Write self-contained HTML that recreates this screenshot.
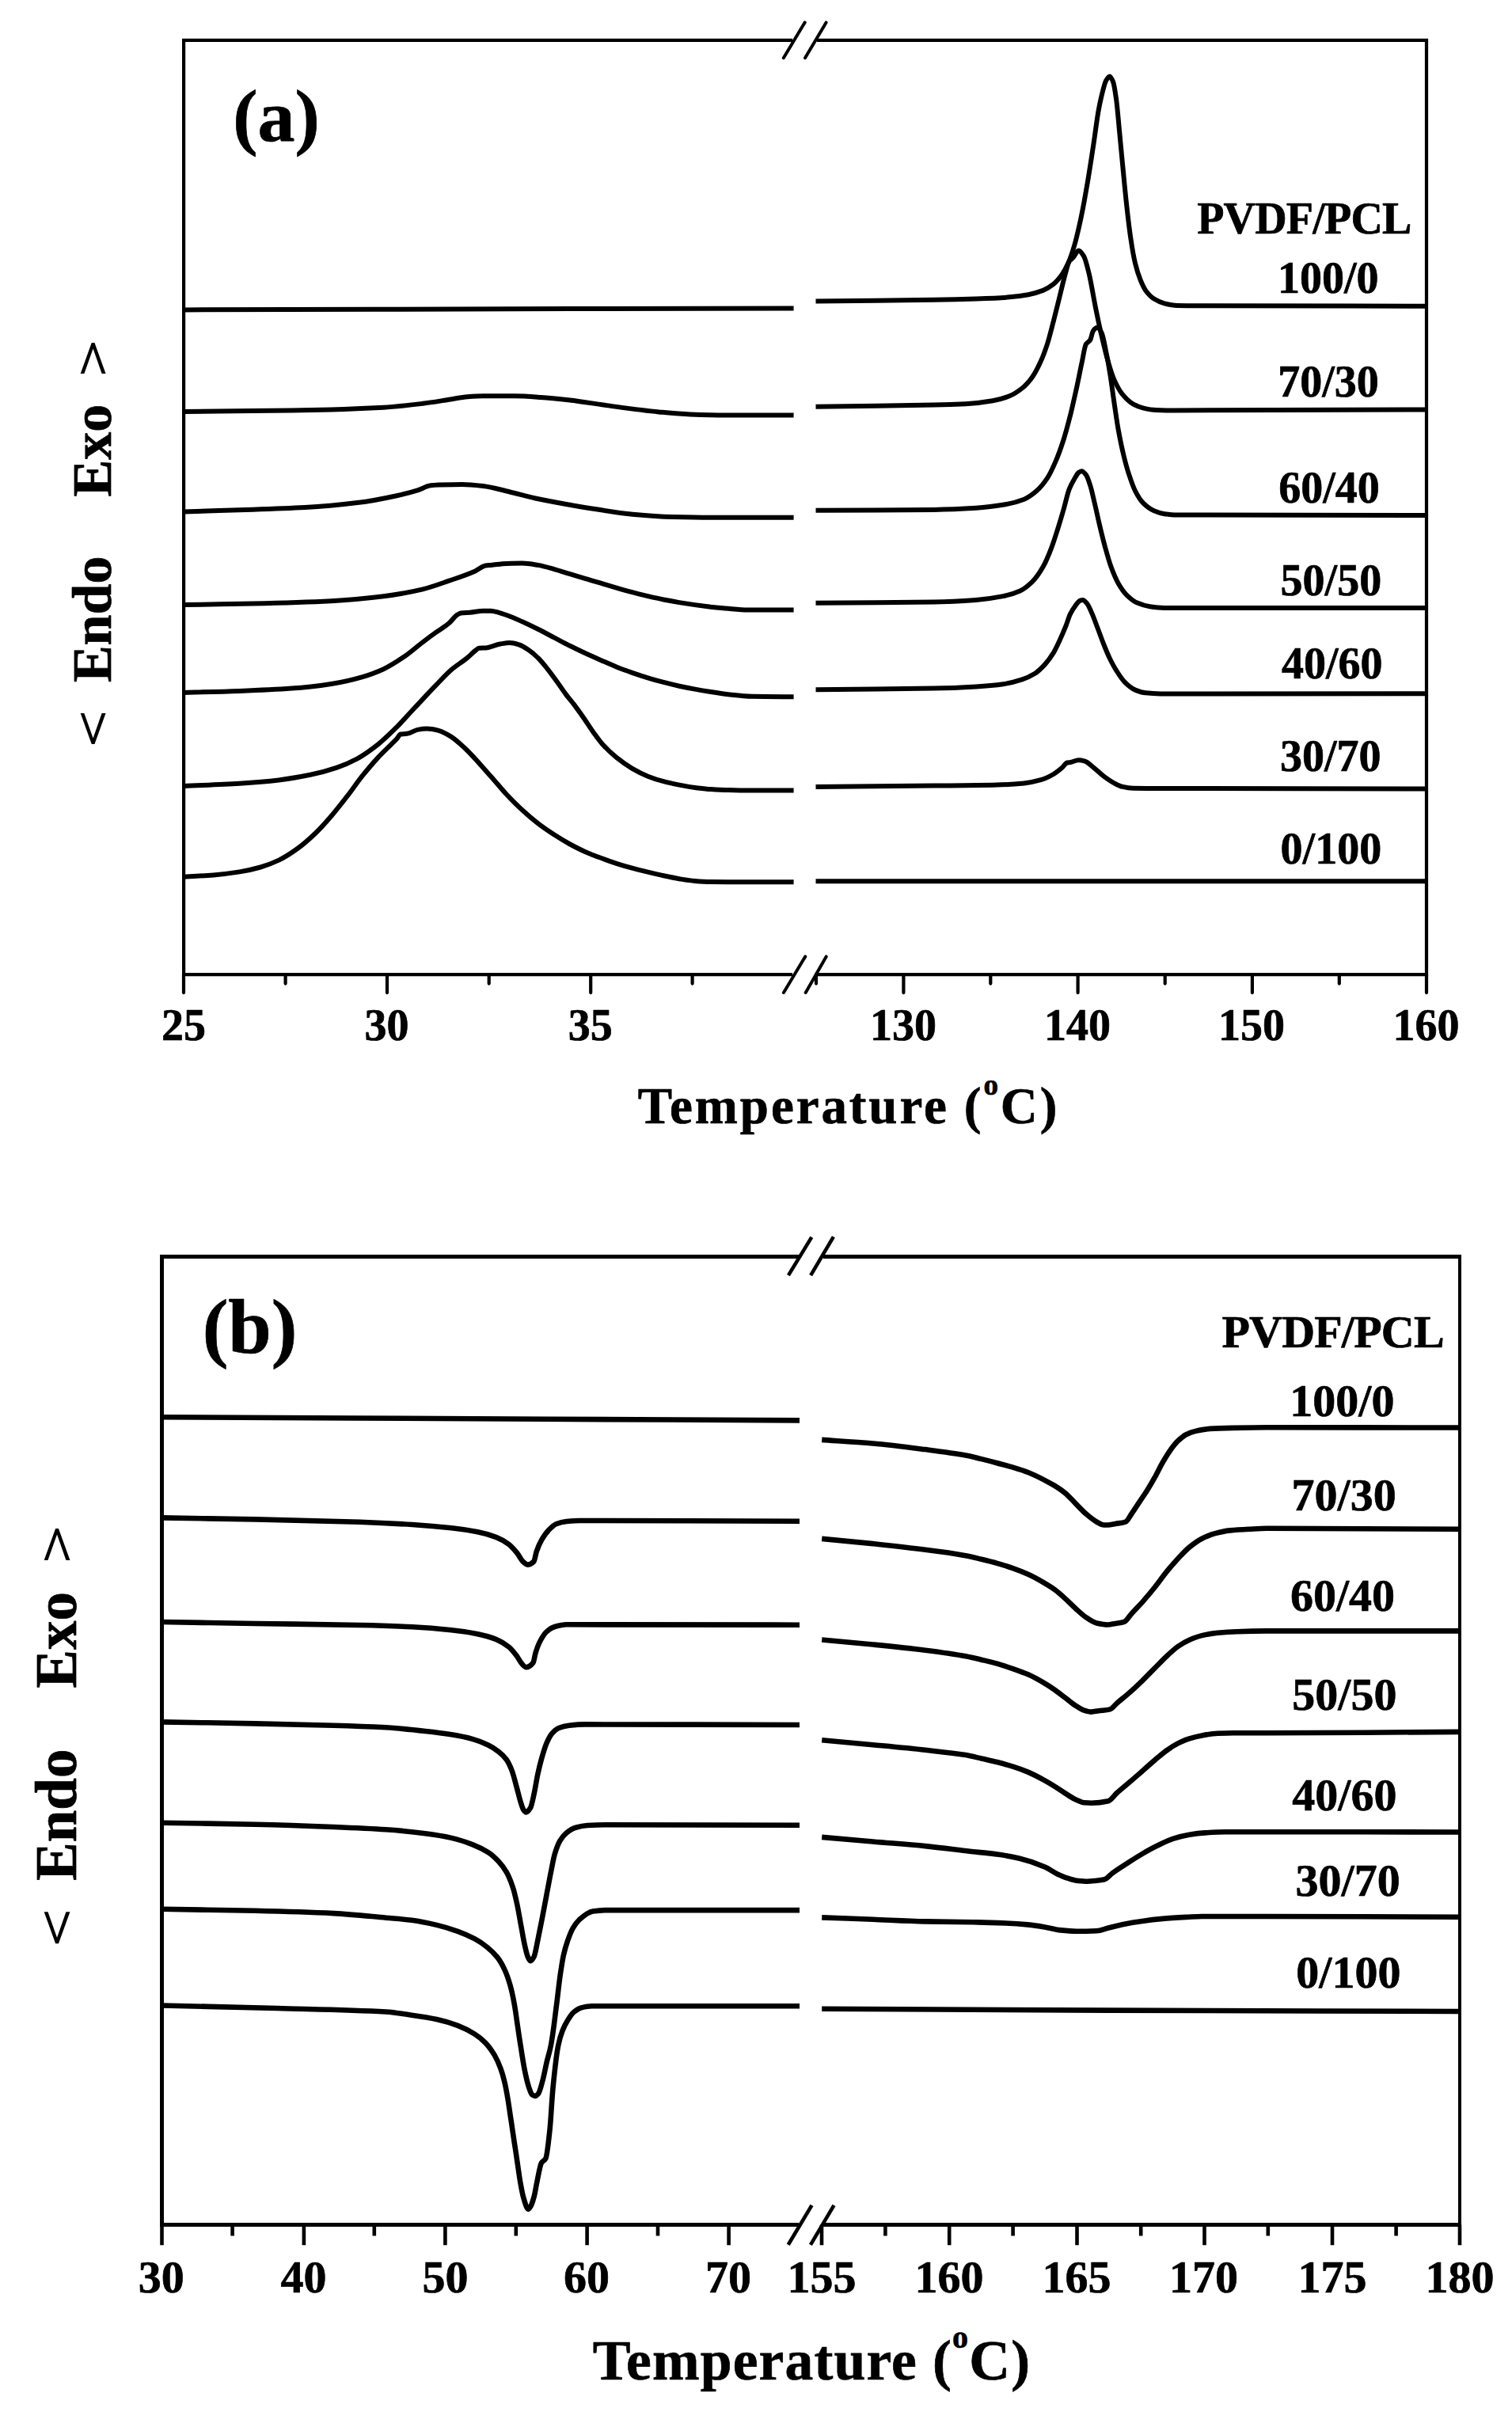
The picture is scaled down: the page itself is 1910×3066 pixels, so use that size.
<!DOCTYPE html>
<html lang="en"><head><meta charset="utf-8"><title>DSC curves of PVDF/PCL blends</title>
<style>
html,body{margin:0;padding:0;background:#fff;}
body{width:1910px;height:3066px;overflow:hidden;}
svg{display:block;}
text{font-family:"Liberation Serif","DejaVu Serif",serif;font-weight:bold;fill:#000;stroke:#000;stroke-width:0.7;stroke-linejoin:round;}
.ang{font-family:"DejaVu Sans","Liberation Sans",sans-serif;font-weight:200;stroke:#000;stroke-width:1.9;stroke-linejoin:miter;}
.fr{fill:none;stroke:#000;stroke-linecap:butt;stroke-linejoin:miter;}
.cv{fill:none;stroke:#000;stroke-linecap:butt;stroke-linejoin:round;}
.tk{fill:none;stroke:#000;stroke-linecap:round;}
</style></head><body>
<svg width="1910" height="3066" viewBox="0 0 1910 3066">
<rect width="1910" height="3066" fill="#fff"/>
<g id="chart-a">
<path class="fr" stroke-width="4.2" d="M1001.0 50.8H232.1V1231.2H1001.0 M1032.0 50.8H1802.0V1231.2H1032.0"/>
<line x1="989.8" y1="73.2" x2="1016.7" y2="28.4" stroke="#000" stroke-width="4.0" stroke-linecap="round"/>
<line x1="1017.0" y1="73.2" x2="1043.6" y2="28.4" stroke="#000" stroke-width="4.0" stroke-linecap="round"/>
<line x1="989.9" y1="1254.0" x2="1017.3" y2="1208.4" stroke="#000" stroke-width="4.0" stroke-linecap="round"/>
<line x1="1017.7" y1="1254.0" x2="1043.7" y2="1208.4" stroke="#000" stroke-width="4.0" stroke-linecap="round"/>
<path class="tk" stroke-width="4.2" d="M232.0 1231.2V1254.1M489.0 1231.2V1254.1M746.2 1231.2V1254.1M1141.4 1231.2V1254.1M1361.6 1231.2V1254.1M1581.9 1231.2V1254.1M1802.0 1231.2V1254.1M360.6 1231.2V1242.6M617.7 1231.2V1242.6M874.6 1231.2V1242.6M1031.0 1231.2V1242.6M1251.3 1231.2V1242.6M1471.7 1231.2V1242.6M1691.8 1231.2V1242.6"/>
<path class="cv" stroke-width="6" d="M232.1 391.4C394.7 391.0 557.4 390.5 720.0 390.1C814.2 389.9 908.4 389.7 1002.6 389.4"/>
<path class="cv" stroke-width="6" d="M1030.5 380.5C1080.3 379.9 1130.2 379.6 1180.0 378.8C1197.6 378.5 1215.3 378.0 1232.9 377.5C1246.1 377.0 1259.4 376.5 1272.6 375.6C1281.4 375.0 1290.2 373.8 1299.0 372.2C1305.2 371.0 1311.4 369.3 1317.6 366.9C1322.0 365.1 1326.4 362.4 1330.8 358.9C1334.3 356.1 1337.8 352.0 1341.4 347.0C1344.0 343.3 1346.7 338.4 1349.3 332.5C1352.0 326.6 1354.6 318.9 1357.2 310.0C1359.9 301.1 1362.5 289.3 1365.2 276.9C1367.8 264.6 1370.5 249.9 1373.1 234.6C1375.8 219.3 1378.4 201.7 1381.1 184.3C1383.3 169.9 1385.5 151.4 1387.7 139.4C1389.0 132.2 1390.3 126.2 1391.6 120.8C1393.4 113.7 1395.2 105.5 1396.9 102.3C1398.5 99.5 1400.1 96.5 1401.7 96.5C1403.2 96.5 1404.7 99.9 1406.2 103.7C1407.5 107.0 1408.8 116.6 1410.2 126.1C1411.5 135.7 1412.8 152.2 1414.1 165.8C1415.4 179.5 1416.8 194.5 1418.1 208.1C1419.9 226.4 1421.6 245.4 1423.4 261.1C1425.1 276.7 1426.9 291.9 1428.7 303.4C1430.4 314.9 1432.2 325.3 1434.0 332.5C1436.2 341.5 1438.4 348.2 1440.6 353.7C1442.8 359.1 1445.0 363.9 1447.2 366.9C1450.7 371.7 1454.3 375.3 1457.8 377.5C1462.2 380.2 1466.6 382.2 1471.0 383.3C1476.3 384.6 1481.6 385.8 1486.9 385.9C1494.8 386.1 1502.8 386.2 1510.7 386.2C1607.8 386.6 1704.9 386.5 1802.0 386.7"/>
<path class="cv" stroke-width="6" d="M232.1 520.1C261.1 519.7 290.2 519.5 319.2 519.1C352.3 518.6 385.3 518.2 418.4 517.4C440.5 516.9 462.5 516.0 484.6 514.8C501.1 513.8 517.6 511.8 534.2 509.8C545.2 508.5 556.2 506.5 567.2 504.8C574.9 503.7 582.7 501.8 590.4 501.2C597.0 500.7 603.6 500.2 610.2 500.2C623.4 500.2 636.7 500.2 649.9 500.2C660.9 500.2 671.9 501.1 683.0 501.9C695.3 502.7 707.7 504.1 720.0 505.5C735.4 507.3 750.8 510.1 766.1 512.1C788.2 515.1 810.2 518.4 832.3 520.4C845.5 521.6 858.7 522.9 872.0 523.4C886.3 523.9 900.6 524.4 914.9 524.4C944.2 524.4 973.4 524.4 1002.6 524.4"/>
<path class="cv" stroke-width="6" d="M1030.5 513.8C1080.3 513.1 1130.2 512.7 1180.0 511.6C1193.2 511.4 1206.5 511.0 1219.7 510.3C1231.1 509.7 1242.6 508.3 1254.1 506.3C1261.1 505.1 1268.2 503.1 1275.2 500.3C1280.5 498.2 1285.8 494.7 1291.1 490.5C1295.5 487.0 1299.9 482.1 1304.3 475.9C1307.9 471.0 1311.4 463.9 1314.9 456.1C1317.6 450.2 1320.2 443.1 1322.9 434.9C1325.5 426.8 1328.1 415.9 1330.8 405.8C1333.4 395.7 1336.1 384.7 1338.7 374.1C1340.9 365.3 1343.1 355.5 1345.3 347.6C1347.1 341.3 1348.9 333.1 1350.6 330.4C1352.4 327.7 1354.2 327.1 1355.9 325.1C1358.1 322.6 1360.3 316.4 1362.5 316.4C1364.7 316.4 1366.9 320.1 1369.2 323.8C1371.4 327.5 1373.6 337.3 1375.8 346.3C1378.4 357.1 1381.1 374.3 1383.7 387.3C1386.3 400.3 1389.0 412.9 1391.6 424.3C1394.3 435.7 1396.9 447.0 1399.6 456.1C1402.2 465.2 1404.9 474.0 1407.5 479.9C1411.0 487.8 1414.6 494.2 1418.1 498.4C1422.5 503.7 1426.9 507.9 1431.3 510.3C1435.7 512.8 1440.1 514.6 1444.6 515.6C1449.8 516.8 1455.1 517.8 1460.4 518.0C1468.4 518.3 1476.3 518.5 1484.2 518.5C1590.2 518.5 1696.1 517.8 1802.0 517.4"/>
<path class="cv" stroke-width="6" d="M232.1 646.4C261.1 645.5 290.2 644.7 319.2 643.7C341.3 643.0 363.3 642.3 385.3 641.1C407.4 639.9 429.4 637.8 451.5 635.1C468.0 633.1 484.6 629.8 501.1 626.2C509.9 624.3 518.7 622.0 527.5 619.3C533.1 617.6 538.6 613.9 544.1 613.3C547.4 613.0 550.7 612.8 554.0 612.6C563.9 612.3 573.8 612.0 583.8 612.0C592.6 612.0 601.4 613.0 610.2 614.0C621.2 615.2 632.3 618.7 643.3 621.2C654.3 623.8 665.3 627.1 676.3 629.5C690.9 632.7 705.4 635.2 720.0 637.8C729.9 639.5 739.7 641.2 749.6 642.7C766.1 645.3 782.7 648.2 799.2 649.7C815.7 651.2 832.3 652.6 848.8 653.0C865.3 653.4 881.9 653.7 898.4 653.7C933.1 653.7 967.9 653.7 1002.6 653.7"/>
<path class="cv" stroke-width="6" d="M1030.5 644.7C1080.3 644.5 1130.2 644.5 1180.0 643.9C1197.6 643.7 1215.3 642.9 1232.9 641.8C1245.3 641.0 1257.6 639.4 1269.9 637.3C1277.9 635.9 1285.8 633.9 1293.8 630.7C1299.0 628.6 1304.3 624.7 1309.6 620.1C1314.0 616.3 1318.4 610.9 1322.9 604.2C1326.4 598.9 1329.9 591.2 1333.4 583.1C1337.0 574.9 1340.5 565.1 1344.0 554.0C1346.7 545.6 1349.3 535.4 1352.0 524.9C1354.6 514.4 1357.2 502.5 1359.9 490.5C1362.1 480.4 1364.3 469.0 1366.5 458.7C1368.3 450.5 1370.0 437.8 1371.8 434.9C1373.6 432.0 1375.3 432.3 1377.1 429.6C1378.4 427.6 1379.7 419.4 1381.1 417.7C1382.8 415.5 1384.6 413.8 1386.3 413.8C1388.1 413.8 1389.9 417.0 1391.6 420.4C1393.4 423.8 1395.2 434.4 1396.9 442.9C1398.7 451.3 1400.5 461.1 1402.2 472.0C1404.0 482.8 1405.7 497.1 1407.5 509.0C1409.3 520.9 1411.0 533.6 1412.8 543.4C1415.0 555.6 1417.2 566.1 1419.4 575.1C1421.6 584.2 1423.8 592.2 1426.0 598.9C1428.7 607.1 1431.3 615.0 1434.0 620.1C1437.5 627.0 1441.0 632.6 1444.6 636.0C1449.0 640.2 1453.4 643.4 1457.8 645.2C1462.2 647.1 1466.6 648.6 1471.0 649.2C1476.3 649.9 1481.6 650.5 1486.9 650.5C1591.9 651.0 1697.0 650.8 1802.0 651.0"/>
<path class="cv" stroke-width="6" d="M232.1 764.1C261.1 763.6 290.2 763.2 319.2 762.5C352.3 761.7 385.3 760.8 418.4 759.2C440.5 758.1 462.5 755.9 484.6 753.2C501.1 751.2 517.6 748.2 534.2 744.3C545.2 741.7 556.2 737.5 567.2 733.7C578.2 729.9 589.3 726.3 600.3 721.4C604.7 719.5 609.1 715.1 613.5 714.5C615.7 714.2 617.8 714.1 620.0 713.9C626.6 713.3 633.2 712.1 639.8 711.9C646.5 711.7 653.1 711.5 659.7 711.5C666.3 711.5 672.9 712.8 679.5 713.9C686.1 715.0 692.8 717.0 699.4 718.8C706.0 720.7 712.6 722.8 719.2 724.8C725.8 726.8 732.4 728.8 739.0 730.8C745.7 732.7 752.3 734.7 758.9 736.7C765.5 738.7 772.1 740.7 778.7 742.7C785.3 744.6 792.0 746.5 798.6 748.2C805.2 750.0 811.8 751.6 818.4 753.2C825.0 754.7 831.6 756.2 838.3 757.5C844.9 758.8 851.5 760.0 858.1 761.1C864.7 762.2 871.3 763.2 877.9 764.1C884.6 765.0 891.2 765.9 897.8 766.7C905.2 767.5 912.6 768.3 920.0 768.8C928.3 769.5 936.7 770.4 945.0 770.4C964.2 770.4 983.4 770.4 1002.6 770.4"/>
<path class="cv" stroke-width="6" d="M1030.5 761.8C1080.3 761.4 1130.2 761.4 1180.0 760.5C1197.6 760.2 1215.3 759.2 1232.9 757.9C1244.4 757.0 1255.8 755.4 1267.3 753.1C1274.4 751.7 1281.4 749.7 1288.5 746.5C1293.8 744.1 1299.0 739.8 1304.3 734.6C1308.7 730.3 1313.2 723.8 1317.6 716.1C1321.1 709.9 1324.6 701.4 1328.1 692.3C1330.8 685.4 1333.4 676.8 1336.1 668.5C1338.7 660.1 1341.4 651.2 1344.0 642.0C1346.2 634.4 1348.4 623.9 1350.6 618.2C1352.8 612.5 1355.0 608.7 1357.2 605.0C1359.0 602.0 1360.8 598.3 1362.5 597.0C1363.9 596.1 1365.2 595.2 1366.5 595.2C1368.3 595.2 1370.0 597.4 1371.8 599.7C1373.6 601.9 1375.3 607.5 1377.1 612.9C1378.9 618.3 1380.6 626.7 1382.4 634.1C1384.6 643.3 1386.8 653.9 1389.0 663.2C1391.2 672.4 1393.4 681.6 1395.6 689.6C1398.3 699.3 1400.9 708.9 1403.5 716.1C1406.6 724.5 1409.7 731.9 1412.8 737.2C1416.3 743.3 1419.9 748.4 1423.4 751.8C1427.8 756.1 1432.2 759.7 1436.6 761.6C1441.9 763.9 1447.2 765.6 1452.5 766.3C1458.7 767.2 1464.8 767.9 1471.0 767.9C1581.3 768.0 1691.7 768.0 1802.0 768.0"/>
<path class="cv" stroke-width="6" d="M232.1 874.9C255.6 874.3 279.1 873.8 302.7 872.9C324.7 872.1 346.8 871.2 368.8 869.6C385.3 868.5 401.9 866.5 418.4 864.0C431.6 862.0 444.9 858.9 458.1 855.1C466.9 852.6 475.7 849.2 484.6 845.2C493.4 841.1 502.2 835.3 511.0 829.3C518.7 824.0 526.4 817.0 534.2 811.1C539.7 806.9 545.2 802.8 550.7 798.9C556.2 794.9 561.7 792.0 567.2 787.3C570.5 784.5 573.8 779.3 577.1 777.0C578.8 775.9 580.4 774.6 582.1 774.4C586.0 773.9 589.8 774.0 593.7 773.7C599.2 773.3 604.7 771.7 610.2 771.7C613.5 771.7 616.7 771.8 620.0 771.8C623.3 771.9 626.6 773.0 629.9 773.8C633.2 774.6 636.5 775.8 639.8 777.0C646.5 779.4 653.1 782.4 659.7 785.3C666.3 788.3 672.9 791.5 679.5 794.8C686.1 798.1 692.8 801.7 699.4 805.2C706.0 808.6 712.6 812.2 719.2 815.5C725.8 818.8 732.4 821.9 739.0 825.0C745.7 828.1 752.3 831.0 758.9 833.9C765.5 836.8 772.1 839.8 778.7 842.5C785.3 845.1 792.0 847.5 798.6 849.8C805.2 852.1 811.8 854.3 818.4 856.3C825.0 858.4 831.6 860.2 838.3 861.9C844.9 863.6 851.5 865.2 858.1 866.7C864.7 868.1 871.3 869.4 877.9 870.6C884.6 871.9 891.2 873.0 897.8 874.0C905.2 875.2 912.6 876.4 920.0 877.2C930.0 878.3 940.0 879.6 950.0 879.8C967.5 880.1 985.1 880.1 1002.6 880.2"/>
<path class="cv" stroke-width="6" d="M1030.5 871.3C1080.3 870.7 1130.2 870.5 1180.0 869.5C1197.6 869.2 1215.3 868.4 1232.9 867.4C1244.4 866.7 1255.8 865.8 1267.3 864.2C1275.2 863.1 1283.2 861.0 1291.1 858.4C1296.4 856.7 1301.7 854.3 1307.0 851.0C1311.4 848.3 1315.8 843.9 1320.2 839.1C1323.7 835.2 1327.3 830.3 1330.8 824.6C1333.4 820.2 1336.1 814.4 1338.7 808.7C1341.4 803.0 1344.0 796.9 1346.7 790.2C1348.4 785.7 1350.2 779.2 1352.0 775.6C1354.2 771.1 1356.4 768.0 1358.6 765.0C1360.3 762.7 1362.1 759.7 1363.9 758.9C1365.2 758.4 1366.5 757.9 1367.8 757.9C1369.6 757.9 1371.4 760.3 1373.1 762.4C1375.3 765.0 1377.5 770.6 1379.7 775.6C1381.9 780.6 1384.1 787.0 1386.3 792.8C1389.0 799.8 1391.6 807.4 1394.3 814.0C1396.9 820.6 1399.6 827.1 1402.2 832.5C1404.9 837.9 1407.5 842.9 1410.2 847.0C1413.7 852.6 1417.2 858.1 1420.7 861.6C1425.1 866.0 1429.6 869.8 1434.0 871.6C1438.4 873.4 1442.8 874.9 1447.2 875.3C1453.4 876.0 1459.5 876.4 1465.7 876.4C1577.8 876.4 1689.9 876.3 1802.0 876.3"/>
<path class="cv" stroke-width="6" d="M232.1 993.0C255.6 991.9 279.1 991.1 302.7 989.7C319.2 988.6 335.7 987.3 352.3 985.4C365.5 983.8 378.7 981.5 392.0 978.8C403.0 976.5 414.0 973.5 425.0 969.8C433.8 966.9 442.7 963.0 451.5 958.3C460.3 953.5 469.1 947.1 477.9 940.1C485.7 933.9 493.4 926.2 501.1 918.6C508.8 910.9 516.5 902.0 524.2 893.8C533.1 884.4 541.9 874.7 550.7 865.7C557.3 858.9 563.9 851.5 570.5 845.8C577.1 840.2 583.8 836.4 590.4 830.9C593.7 828.2 597.0 824.5 600.3 822.0C601.9 820.8 603.6 818.8 605.3 818.7C608.0 818.5 610.8 818.5 613.5 818.4C619.6 818.0 625.8 814.5 631.9 813.5C635.9 812.9 639.8 812.1 643.8 812.1C647.8 812.1 651.7 813.3 655.7 814.5C659.7 815.6 663.7 818.4 667.6 821.0C671.6 823.7 675.6 827.1 679.5 831.0C683.5 834.8 687.5 839.9 691.4 844.8C695.4 849.8 699.4 855.3 703.3 860.7C707.3 866.2 711.3 872.3 715.2 877.6C718.5 882.0 721.9 885.7 725.2 890.1C729.1 895.3 733.1 900.8 737.0 906.5C741.2 912.5 745.4 919.4 749.6 925.2C753.4 930.4 757.1 935.8 760.9 940.0C766.8 946.6 772.8 952.1 778.7 956.9C785.3 962.2 792.0 966.9 798.6 970.8C805.2 974.6 811.8 978.0 818.4 980.7C825.0 983.3 831.6 985.5 838.3 987.2C844.9 989.0 851.5 990.3 858.1 991.6C864.7 992.9 871.3 994.1 877.9 995.0C884.6 995.8 891.2 996.7 897.8 997.1C905.2 997.6 912.6 998.0 920.0 998.1C929.3 998.4 938.7 998.6 948.0 998.6C966.2 998.6 984.4 998.6 1002.6 998.6"/>
<path class="cv" stroke-width="6" d="M1030.5 994.0C1080.3 993.5 1130.2 993.1 1180.0 992.6C1206.5 992.3 1232.9 992.2 1259.4 991.5C1270.8 991.3 1282.3 990.5 1293.8 989.4C1300.8 988.7 1307.9 987.2 1314.9 985.2C1320.2 983.7 1325.5 981.1 1330.8 978.0C1334.3 976.0 1337.8 973.2 1341.4 970.1C1343.6 968.2 1345.8 964.0 1348.0 963.5C1349.3 963.2 1350.6 963.2 1352.0 963.0C1355.5 962.4 1359.0 960.3 1362.5 960.3C1365.2 960.3 1367.8 960.9 1370.5 961.6C1374.0 962.6 1377.5 966.5 1381.1 969.3C1385.5 972.8 1389.9 977.4 1394.3 980.7C1398.7 984.0 1403.1 987.2 1407.5 989.4C1411.0 991.2 1414.6 993.2 1418.1 993.9C1422.5 994.9 1426.9 995.7 1431.3 995.8C1444.6 996.0 1457.8 996.0 1471.0 996.0C1581.3 996.3 1691.7 996.3 1802.0 996.4"/>
<path class="cv" stroke-width="6" d="M232.1 1107.7C244.6 1107.0 257.1 1106.4 269.6 1105.4C280.6 1104.5 291.6 1103.2 302.7 1101.4C311.5 1100.0 320.3 1098.0 329.1 1095.5C336.8 1093.3 344.6 1090.2 352.3 1086.6C360.0 1082.9 367.7 1077.9 375.4 1072.3C383.1 1066.8 390.9 1059.9 398.6 1052.5C405.2 1046.2 411.8 1038.7 418.4 1031.0C425.0 1023.3 431.6 1014.7 438.3 1006.2C444.9 997.7 451.5 988.0 458.1 979.7C464.7 971.5 471.3 963.7 477.9 956.6C483.4 950.7 489.0 945.6 494.5 940.1C496.7 937.9 498.9 935.9 501.1 933.5C502.7 931.6 504.4 927.8 506.0 927.5C508.8 927.1 511.6 927.2 514.3 926.8C518.7 926.3 523.1 922.6 527.5 921.9C531.4 921.2 535.3 920.6 539.1 920.6C544.1 920.6 549.0 921.7 554.0 922.9C559.5 924.2 565.0 927.7 570.5 931.1C576.0 934.6 581.6 939.9 587.1 945.0C598.0 955.3 609.0 968.4 620.0 980.7C626.6 988.1 633.2 996.4 639.8 1003.5C646.5 1010.6 653.1 1017.3 659.7 1023.3C666.3 1029.4 672.9 1035.1 679.5 1040.2C686.1 1045.3 692.8 1049.8 699.4 1054.1C706.0 1058.4 712.6 1062.4 719.2 1066.0C725.8 1069.6 732.4 1073.0 739.0 1075.9C745.7 1078.9 752.3 1081.4 758.9 1083.8C765.5 1086.3 772.1 1088.7 778.7 1090.8C785.3 1092.9 792.0 1094.9 798.6 1096.7C805.2 1098.5 811.8 1100.1 818.4 1101.7C825.0 1103.3 831.6 1104.9 838.3 1106.3C844.9 1107.7 851.5 1109.1 858.1 1110.2C864.7 1111.3 871.3 1112.5 877.9 1113.0C884.6 1113.5 891.2 1113.9 897.8 1114.0C905.2 1114.1 912.6 1114.2 920.0 1114.2C947.5 1114.3 975.1 1114.3 1002.6 1114.3"/>
<path class="cv" stroke-width="6" d="M1030.5 1113.2C1287.7 1113.2 1544.8 1113.2 1802.0 1113.2"/>
<text x="232.0" y="1313.8" font-size="56" text-anchor="middle">25</text>
<text x="488.6" y="1313.8" font-size="56" text-anchor="middle">30</text>
<text x="745.8" y="1313.8" font-size="56" text-anchor="middle">35</text>
<text x="1141.0" y="1313.8" font-size="56" text-anchor="middle">130</text>
<text x="1360.9" y="1313.8" font-size="56" text-anchor="middle">140</text>
<text x="1581.1" y="1313.8" font-size="56" text-anchor="middle">150</text>
<text x="1801.5" y="1313.8" font-size="56" text-anchor="middle">160</text>
<text x="1072" y="1418.5" font-size="65" letter-spacing="2.9" text-anchor="middle">Temperature (<tspan font-size="37" dy="-36">o</tspan><tspan dy="36">C)</tspan></text>
<text x="349" y="178" font-size="94" text-anchor="middle">(a)</text>
<text x="1647.4" y="294.8" font-size="56" letter-spacing="-0.8" text-anchor="middle">PVDF/PCL</text>
<text x="1677.8" y="369.5" font-size="56" text-anchor="middle">100/0</text>
<text x="1678.0" y="501.0" font-size="56" text-anchor="middle">70/30</text>
<text x="1679.0" y="635.3" font-size="56" text-anchor="middle">60/40</text>
<text x="1681.4" y="752.0" font-size="56" text-anchor="middle">50/50</text>
<text x="1682.8" y="856.7" font-size="56" text-anchor="middle">40/60</text>
<text x="1680.8" y="974.2" font-size="56" text-anchor="middle">30/70</text>
<text x="1681.4" y="1091.4" font-size="56" text-anchor="middle">0/100</text>
<g transform="translate(140.3,0) rotate(-90)">
<text x="-782.3" y="0" font-size="70" text-anchor="middle">Endo</text>
<text x="-569.2" y="0" font-size="70" text-anchor="middle">Exo</text>
<text class="ang" x="-920.5" y="-4.6" font-size="59" text-anchor="middle">&lt;</text>
<text class="ang" x="-452.6" y="-4.6" font-size="59" text-anchor="middle">&gt;</text>
</g>
</g>
<g id="chart-b">
<g shape-rendering="crispEdges" stroke="#000" fill="none">
<path stroke-width="5" d="M204.5 1585V2813"/>
<path stroke-width="5" d="M202 1587.5H1009M1040 1587.5H1846"/>
<path stroke-width="5" d="M202 2810.5H1009M1040 2810.5H1846"/>
<path stroke-width="4" d="M1844 1585V2813"/>
</g>
<line x1="995.9" y1="1611.1" x2="1025.3" y2="1562.9" stroke="#000" stroke-width="4.6" stroke-linecap="butt"/>
<line x1="1024.1" y1="1611.1" x2="1052.9" y2="1562.3" stroke="#000" stroke-width="4.6" stroke-linecap="butt"/>
<line x1="995.7" y1="2835.8" x2="1025.5" y2="2785.9" stroke="#000" stroke-width="4.6" stroke-linecap="butt"/>
<line x1="1023.9" y1="2835.8" x2="1053.5" y2="2785.9" stroke="#000" stroke-width="4.6" stroke-linecap="butt"/>
<path class="fr" stroke-width="4.6" d="M204.5 2810.5V2836.2M383.9 2810.5V2836.2M562.4 2810.5V2836.2M741.6 2810.5V2836.2M920.6 2810.5V2836.2M1038.0 2810.5V2836.2M1199.2 2810.5V2836.2M1360.5 2810.5V2836.2M1521.5 2810.5V2836.2M1683.0 2810.5V2836.2M1844.0 2810.5V2836.2M293.6 2810.5V2824.4M472.8 2810.5V2824.4M651.8 2810.5V2824.4M831.0 2810.5V2824.4M1118.4 2810.5V2824.4M1279.6 2810.5V2824.4M1441.2 2810.5V2824.4M1601.8 2810.5V2824.4M1763.6 2810.5V2824.4"/>
<path class="cv" stroke-width="6.6" d="M204.5 1790.2C366.3 1791.0 528.2 1791.9 690.0 1792.7C796.7 1793.3 903.3 1793.8 1010.0 1794.4"/>
<path class="cv" stroke-width="6.6" d="M1038.2 1818.9C1059.7 1820.4 1081.2 1821.6 1102.7 1823.5C1124.7 1825.4 1146.8 1828.3 1168.8 1831.1C1185.8 1833.3 1202.8 1835.4 1219.8 1838.5C1226.4 1839.7 1233.1 1841.5 1239.7 1843.1C1246.3 1844.7 1252.9 1846.4 1259.5 1848.2C1266.1 1850.0 1272.8 1851.7 1279.4 1853.7C1286.0 1855.7 1292.6 1857.7 1299.2 1860.3C1305.8 1862.9 1312.4 1866.2 1319.0 1869.6C1323.4 1871.9 1327.9 1874.2 1332.3 1876.9C1336.7 1879.6 1341.1 1882.5 1345.5 1886.1C1349.9 1889.7 1354.3 1895.0 1358.7 1899.4C1363.1 1903.8 1367.6 1908.8 1372.0 1912.6C1376.4 1916.4 1380.8 1920.1 1385.2 1922.5C1388.3 1924.2 1391.3 1926.5 1394.4 1926.5C1396.0 1926.5 1397.6 1926.5 1399.2 1926.5C1402.5 1926.5 1405.8 1925.5 1409.1 1924.9C1413.4 1924.2 1417.7 1924.1 1422.0 1922.5C1424.3 1921.7 1426.7 1916.3 1429.0 1913.0C1432.3 1908.3 1435.6 1903.1 1438.9 1898.1C1442.2 1893.2 1445.5 1888.5 1448.8 1883.3C1452.1 1878.0 1455.4 1872.3 1458.7 1866.4C1462.0 1860.5 1465.3 1853.3 1468.7 1847.5C1472.0 1841.8 1475.3 1836.2 1478.6 1831.7C1481.9 1827.1 1485.2 1822.8 1488.5 1819.8C1491.8 1816.7 1495.1 1813.9 1498.4 1812.2C1502.4 1810.2 1506.3 1808.8 1510.3 1807.9C1516.3 1806.5 1522.2 1805.2 1528.2 1804.9C1538.1 1804.3 1548.0 1804.1 1557.9 1803.9C1572.0 1803.6 1586.0 1803.3 1600.0 1803.3C1681.3 1803.3 1762.7 1803.4 1844.0 1803.5"/>
<path class="cv" stroke-width="6.6" d="M204.5 1917.4C243.8 1918.1 283.0 1918.6 322.3 1919.4C366.4 1920.3 410.5 1921.2 454.6 1922.7C476.6 1923.5 498.6 1924.6 520.7 1926.0C537.2 1927.1 553.8 1928.5 570.3 1930.3C581.3 1931.5 592.3 1933.1 603.4 1935.3C611.1 1936.8 618.8 1938.9 626.5 1941.9C632.0 1944.0 637.5 1947.0 643.0 1951.1C646.3 1953.6 649.7 1957.7 653.0 1961.7C655.7 1965.1 658.5 1970.9 661.2 1973.3C662.9 1974.7 664.5 1976.6 666.2 1976.6C668.9 1976.6 671.7 1975.3 674.4 1972.6C675.5 1971.6 676.6 1963.3 677.7 1960.1C679.9 1953.7 682.1 1949.0 684.3 1945.2C687.1 1940.4 689.8 1936.5 692.6 1933.6C695.9 1930.1 699.2 1926.6 702.5 1925.3C706.9 1923.6 711.3 1922.5 715.7 1922.0C721.3 1921.5 726.8 1921.0 732.3 1921.0C824.9 1921.0 917.4 1921.5 1010.0 1921.7"/>
<path class="cv" stroke-width="6.6" d="M1038.2 1943.9C1059.7 1946.0 1081.2 1947.9 1102.7 1950.1C1124.7 1952.5 1146.8 1954.9 1168.8 1957.8C1185.8 1959.9 1202.8 1962.1 1219.8 1965.2C1226.4 1966.4 1233.1 1968.2 1239.7 1969.8C1246.3 1971.4 1252.9 1973.0 1259.5 1974.9C1266.1 1976.8 1272.8 1978.8 1279.4 1981.1C1286.0 1983.4 1292.6 1986.0 1299.2 1989.0C1305.8 1992.0 1312.4 1995.7 1319.0 1999.6C1323.4 2002.2 1327.9 2004.9 1332.3 2008.2C1336.7 2011.4 1341.1 2015.4 1345.5 2019.4C1349.9 2023.4 1354.3 2028.0 1358.7 2032.0C1363.1 2036.0 1367.6 2040.4 1372.0 2043.3C1376.4 2046.2 1380.8 2049.5 1385.2 2050.5C1389.9 2051.5 1394.5 2052.5 1399.2 2052.5C1402.5 2052.5 1405.8 2051.4 1409.1 2050.9C1412.8 2050.3 1416.4 2050.1 1420.0 2048.9C1423.0 2047.9 1426.0 2042.2 1429.0 2039.0C1433.6 2033.9 1438.2 2029.3 1442.9 2024.1C1448.1 2018.1 1453.4 2011.8 1458.7 2005.2C1464.0 1998.6 1469.3 1990.9 1474.6 1984.4C1479.2 1978.8 1483.9 1973.5 1488.5 1968.5C1493.1 1963.6 1497.8 1958.4 1502.4 1954.6C1507.7 1950.3 1513.0 1946.4 1518.3 1943.7C1523.5 1941.1 1528.8 1938.8 1534.1 1937.4C1540.7 1935.6 1547.4 1934.1 1554.0 1933.4C1561.9 1932.6 1569.8 1932.2 1577.8 1931.8C1585.2 1931.4 1592.6 1930.8 1600.0 1930.8C1681.3 1930.8 1762.7 1931.5 1844.0 1931.8"/>
<path class="cv" stroke-width="6.6" d="M204.5 2049.0C243.8 2049.7 283.0 2050.4 322.3 2051.0C366.4 2051.7 410.5 2052.0 454.6 2053.0C476.6 2053.5 498.6 2054.2 520.7 2055.3C537.2 2056.1 553.8 2057.5 570.3 2059.3C581.3 2060.4 592.3 2062.0 603.4 2064.2C611.1 2065.8 618.8 2067.8 626.5 2070.8C632.0 2073.0 637.5 2076.3 643.0 2080.8C646.3 2083.5 649.7 2088.0 653.0 2092.3C655.2 2095.3 657.4 2100.0 659.6 2102.3C661.2 2104.0 662.9 2106.2 664.5 2106.2C667.5 2106.2 670.5 2104.2 673.4 2100.6C674.5 2099.3 675.6 2090.8 676.7 2087.4C678.7 2081.1 680.7 2076.1 682.7 2072.5C685.4 2067.5 688.2 2063.3 690.9 2060.9C694.2 2058.1 697.6 2055.9 700.9 2055.0C705.8 2053.6 710.8 2052.3 715.7 2052.3C813.8 2052.3 911.9 2052.5 1010.0 2052.7"/>
<path class="cv" stroke-width="6.6" d="M1038.2 2071.5C1059.7 2073.5 1081.2 2075.3 1102.7 2077.5C1124.7 2079.7 1146.8 2081.9 1168.8 2084.7C1185.8 2086.9 1202.8 2089.1 1219.8 2092.2C1226.4 2093.4 1233.1 2095.1 1239.7 2096.7C1246.3 2098.3 1252.9 2099.8 1259.5 2101.7C1266.1 2103.6 1272.8 2105.8 1279.4 2108.1C1286.0 2110.4 1292.6 2112.7 1299.2 2115.6C1305.8 2118.5 1312.4 2122.3 1319.0 2126.2C1323.4 2128.8 1327.9 2131.7 1332.3 2134.8C1336.7 2137.9 1341.1 2141.4 1345.5 2144.7C1349.9 2148.0 1354.3 2151.9 1358.7 2154.7C1362.2 2157.0 1365.8 2159.5 1369.3 2160.6C1372.4 2161.6 1375.5 2162.6 1378.6 2162.6C1381.7 2162.6 1384.7 2161.7 1387.8 2161.3C1392.6 2160.6 1397.4 2160.6 1402.2 2159.4C1405.2 2158.6 1408.1 2154.0 1411.1 2151.4C1416.4 2146.9 1421.7 2142.8 1427.0 2138.1C1432.3 2133.5 1437.6 2128.4 1442.9 2123.3C1448.1 2118.1 1453.4 2112.7 1458.7 2107.4C1464.0 2102.1 1469.3 2096.4 1474.6 2091.5C1479.2 2087.2 1483.9 2082.8 1488.5 2079.6C1493.1 2076.4 1497.8 2073.7 1502.4 2071.7C1507.7 2069.4 1513.0 2067.3 1518.3 2066.1C1524.9 2064.6 1531.5 2063.4 1538.1 2062.7C1546.0 2062.0 1554.0 2061.4 1561.9 2061.2C1574.6 2060.7 1587.3 2060.4 1600.0 2060.4C1681.3 2060.4 1762.7 2060.4 1844.0 2060.4"/>
<path class="cv" stroke-width="6.6" d="M204.5 2175.4C243.8 2176.0 283.0 2176.6 322.3 2177.4C355.3 2178.0 388.4 2178.7 421.5 2179.7C443.5 2180.3 465.6 2181.1 487.6 2182.3C504.2 2183.3 520.7 2185.1 537.2 2187.0C548.2 2188.2 559.3 2189.5 570.3 2191.3C579.1 2192.7 587.9 2194.4 596.7 2196.9C603.4 2198.7 610.0 2201.3 616.6 2204.5C621.0 2206.6 625.4 2209.3 629.8 2212.8C633.1 2215.3 636.4 2218.2 639.7 2222.7C641.9 2225.7 644.1 2230.3 646.3 2235.9C648.6 2241.5 650.8 2251.1 653.0 2259.0C654.6 2265.0 656.3 2272.1 657.9 2277.2C659.0 2280.6 660.1 2284.6 661.2 2286.2C662.3 2287.8 663.4 2289.5 664.5 2289.5C666.4 2289.5 668.2 2286.9 670.1 2283.8C671.5 2281.5 673.0 2273.7 674.4 2267.3C676.1 2260.0 677.7 2248.4 679.4 2240.9C681.0 2233.3 682.7 2226.7 684.3 2221.0C686.5 2213.4 688.7 2206.1 690.9 2201.2C693.1 2196.3 695.3 2192.1 697.6 2189.6C700.3 2186.5 703.1 2184.1 705.8 2183.0C710.2 2181.2 714.6 2180.2 719.0 2179.7C725.7 2179.0 732.3 2178.4 738.9 2178.4C829.3 2178.4 919.6 2178.8 1010.0 2179.0"/>
<path class="cv" stroke-width="6.6" d="M1038.2 2198.2C1059.7 2200.2 1081.2 2202.1 1102.7 2204.2C1124.7 2206.3 1146.8 2208.3 1168.8 2210.8C1185.8 2212.7 1202.8 2214.3 1219.8 2217.1C1226.4 2218.2 1233.1 2220.0 1239.7 2221.5C1246.3 2223.0 1252.9 2224.3 1259.5 2226.0C1266.1 2227.7 1272.8 2229.6 1279.4 2231.7C1286.0 2233.8 1292.6 2236.1 1299.2 2238.9C1305.8 2241.7 1312.4 2245.3 1319.0 2248.9C1323.4 2251.3 1327.9 2254.0 1332.3 2256.8C1336.7 2259.5 1341.1 2262.7 1345.5 2265.4C1349.9 2268.1 1354.3 2271.3 1358.7 2273.3C1362.2 2274.9 1365.8 2277.0 1369.3 2277.3C1372.4 2277.5 1375.5 2277.7 1378.6 2277.7C1385.8 2277.7 1393.0 2276.8 1400.2 2275.2C1403.8 2274.3 1407.5 2268.1 1411.1 2264.8C1416.4 2260.1 1421.7 2255.9 1427.0 2251.3C1432.3 2246.8 1437.6 2242.1 1442.9 2237.5C1448.1 2232.8 1453.4 2228.0 1458.7 2223.6C1464.0 2219.1 1469.3 2214.4 1474.6 2210.7C1479.2 2207.4 1483.9 2204.4 1488.5 2202.1C1493.1 2199.9 1497.8 2197.8 1502.4 2196.4C1507.7 2194.7 1513.0 2193.3 1518.3 2192.4C1524.9 2191.3 1531.5 2190.2 1538.1 2189.8C1544.7 2189.5 1551.3 2189.2 1557.9 2189.2C1572.0 2189.2 1586.0 2189.2 1600.0 2189.2C1681.3 2189.2 1762.7 2188.3 1844.0 2187.9"/>
<path class="cv" stroke-width="6.6" d="M204.5 2302.7C243.8 2303.4 283.0 2303.8 322.3 2304.7C355.3 2305.4 388.4 2306.6 421.5 2308.0C443.5 2308.9 465.6 2309.8 487.6 2311.3C504.2 2312.4 520.7 2314.1 537.2 2316.3C548.2 2317.7 559.3 2319.4 570.3 2321.9C579.1 2323.8 587.9 2326.7 596.7 2330.1C603.4 2332.7 610.0 2335.8 616.6 2340.1C621.0 2342.9 625.4 2346.9 629.8 2351.6C633.1 2355.2 636.4 2359.1 639.7 2364.9C642.5 2369.6 645.2 2376.3 648.0 2384.7C649.7 2389.8 651.3 2397.0 653.0 2404.6C654.6 2412.1 656.3 2422.2 657.9 2431.0C659.6 2439.8 661.2 2450.2 662.9 2457.5C664.2 2463.2 665.5 2469.5 666.9 2472.3C668.0 2474.7 669.1 2477.3 670.2 2477.3C671.6 2477.3 673.0 2474.9 674.4 2472.3C676.1 2469.3 677.7 2458.5 679.4 2450.8C681.3 2441.7 683.3 2431.3 685.3 2421.1C687.2 2411.4 689.1 2401.2 690.9 2391.3C692.8 2381.4 694.7 2370.8 696.6 2361.6C698.0 2354.5 699.4 2346.5 700.9 2341.7C703.1 2334.4 705.3 2328.8 707.5 2325.2C710.2 2320.7 713.0 2317.4 715.7 2315.3C719.6 2312.2 723.5 2309.7 727.3 2308.7C732.3 2307.3 737.2 2306.3 742.2 2306.0C749.9 2305.6 757.6 2305.3 765.3 2305.3C846.9 2305.3 928.4 2305.6 1010.0 2305.7"/>
<path class="cv" stroke-width="6.6" d="M1038.2 2320.9C1059.7 2322.8 1081.2 2324.7 1102.7 2326.5C1124.7 2328.4 1146.8 2330.0 1168.8 2332.1C1187.5 2334.0 1206.3 2336.6 1225.0 2338.8C1237.2 2340.1 1249.3 2341.1 1261.5 2342.8C1270.3 2344.1 1279.2 2345.7 1288.0 2347.8C1298.6 2350.3 1309.2 2353.9 1319.8 2358.5C1325.1 2360.7 1330.4 2364.9 1335.7 2367.4C1340.3 2369.5 1345.0 2371.5 1349.6 2372.9C1353.6 2374.2 1357.5 2375.5 1361.5 2375.9C1365.5 2376.3 1369.4 2376.7 1373.4 2376.7C1377.4 2376.7 1381.3 2376.1 1385.3 2375.7C1388.6 2375.4 1391.9 2375.1 1395.2 2374.3C1398.5 2373.5 1401.9 2368.8 1405.2 2366.4C1411.1 2362.0 1417.1 2358.3 1423.0 2354.5C1429.6 2350.2 1436.2 2345.8 1442.9 2342.0C1449.5 2338.1 1456.1 2334.4 1462.7 2331.3C1469.3 2328.1 1475.9 2324.8 1482.5 2322.7C1489.2 2320.6 1495.8 2318.9 1502.4 2317.8C1509.0 2316.7 1515.6 2315.8 1522.2 2315.4C1530.8 2314.8 1539.4 2314.2 1548.0 2314.2C1565.3 2314.2 1582.7 2314.2 1600.0 2314.2C1681.3 2314.2 1762.7 2314.4 1844.0 2314.5"/>
<path class="cv" stroke-width="6.6" d="M204.5 2411.8C243.8 2412.5 283.0 2412.9 322.3 2413.8C355.3 2414.6 388.4 2415.5 421.5 2417.1C443.5 2418.2 465.6 2420.7 487.6 2422.7C498.4 2423.7 509.2 2424.4 520.0 2425.8C530.6 2427.2 541.2 2429.4 551.7 2431.9C560.6 2434.0 569.4 2436.7 578.2 2439.8C585.3 2442.4 592.3 2445.3 599.4 2449.1C604.7 2451.9 609.9 2455.4 615.2 2459.7C619.6 2463.2 624.1 2467.3 628.5 2472.9C631.6 2476.9 634.6 2482.1 637.7 2488.8C639.9 2493.5 642.1 2499.6 644.3 2507.3C646.1 2513.4 647.9 2521.5 649.6 2531.1C651.0 2538.3 652.3 2548.7 653.6 2557.6C654.9 2566.4 656.2 2575.6 657.6 2584.0C659.3 2595.2 661.1 2607.3 662.9 2615.8C664.6 2624.2 666.4 2631.8 668.1 2636.9C669.5 2640.8 670.8 2645.2 672.1 2646.2C673.4 2647.2 674.8 2648.0 676.1 2648.0C677.4 2648.0 678.7 2646.5 680.1 2644.9C681.8 2642.7 683.6 2635.3 685.3 2629.0C687.1 2622.6 688.9 2612.7 690.6 2605.2C692.4 2597.7 694.2 2592.9 695.9 2584.0C697.2 2577.3 698.6 2567.2 699.9 2557.6C701.2 2547.9 702.5 2536.4 703.9 2525.8C705.2 2515.2 706.5 2503.1 707.8 2494.1C709.2 2485.0 710.5 2476.2 711.8 2470.3C713.6 2462.4 715.3 2456.8 717.1 2451.7C719.3 2445.4 721.5 2439.7 723.7 2435.9C726.3 2431.3 729.0 2427.7 731.6 2425.3C737.4 2420.2 743.1 2415.3 748.8 2414.5C754.3 2413.7 759.8 2413.1 765.3 2413.1C846.9 2413.1 928.4 2413.1 1010.0 2413.1"/>
<path class="cv" stroke-width="6.6" d="M1038.2 2422.4C1059.7 2423.2 1081.2 2423.9 1102.7 2424.7C1124.7 2425.6 1146.8 2426.9 1168.8 2427.4C1190.9 2427.9 1212.9 2427.9 1234.9 2428.4C1246.6 2428.6 1258.3 2429.0 1270.0 2429.5C1279.3 2429.9 1288.7 2430.5 1298.0 2431.4C1305.3 2432.1 1312.6 2433.2 1319.8 2434.4C1326.5 2435.5 1333.1 2437.7 1339.7 2438.4C1346.3 2439.1 1352.9 2439.8 1359.5 2439.8C1368.1 2439.8 1376.7 2439.6 1385.3 2439.2C1389.9 2439.0 1394.6 2437.0 1399.2 2435.8C1405.8 2434.2 1412.4 2432.2 1419.0 2430.9C1427.0 2429.3 1434.9 2428.0 1442.9 2426.9C1451.5 2425.7 1460.1 2424.7 1468.7 2423.9C1478.6 2423.1 1488.5 2422.5 1498.4 2421.9C1505.0 2421.6 1511.6 2421.0 1518.3 2421.0C1545.5 2421.0 1572.8 2421.0 1600.0 2421.0C1681.3 2421.0 1762.7 2421.5 1844.0 2421.8"/>
<path class="cv" stroke-width="6.6" d="M204.5 2533.5C253.0 2534.7 301.5 2535.7 350.0 2537.0C395.9 2538.3 441.7 2538.8 487.6 2541.5C498.4 2542.1 509.2 2544.1 520.0 2545.7C530.6 2547.2 541.2 2548.7 551.7 2551.0C560.6 2552.9 569.4 2555.6 578.2 2558.9C585.3 2561.6 592.3 2565.1 599.4 2569.5C603.8 2572.2 608.2 2575.6 612.6 2580.1C616.6 2584.0 620.5 2589.3 624.5 2595.9C627.1 2600.4 629.8 2605.9 632.4 2613.1C634.2 2617.9 636.0 2624.1 637.7 2631.6C639.0 2637.3 640.4 2645.0 641.7 2652.8C643.0 2660.6 644.3 2670.4 645.7 2679.3C647.0 2688.1 648.3 2696.9 649.6 2705.7C651.0 2714.5 652.3 2723.4 653.6 2732.2C654.9 2741.0 656.2 2751.4 657.6 2758.6C658.9 2765.9 660.2 2772.9 661.5 2777.1C663.5 2783.4 665.4 2790.9 667.4 2790.9C668.5 2790.9 669.6 2788.5 670.8 2786.4C672.1 2784.0 673.4 2779.5 674.8 2774.5C675.8 2770.5 676.9 2763.6 677.9 2758.6C680.0 2749.1 682.0 2735.4 684.0 2732.2C685.8 2729.3 687.5 2730.0 689.3 2726.9C691.1 2723.8 692.8 2706.3 694.6 2689.8C695.9 2677.5 697.2 2650.4 698.6 2636.9C700.8 2614.4 703.0 2594.6 705.2 2584.0C706.9 2575.6 708.7 2570.0 710.5 2565.5C712.7 2559.8 714.9 2555.8 717.1 2552.3C719.7 2548.0 722.4 2543.8 725.0 2541.7C728.1 2539.2 731.2 2537.2 734.3 2536.4C738.7 2535.3 743.1 2534.3 747.5 2534.3C835.0 2534.3 922.5 2534.3 1010.0 2534.3"/>
<path class="cv" stroke-width="6.6" d="M1038.2 2537.8C1158.8 2538.4 1279.4 2539.1 1400.0 2539.6C1548.0 2540.2 1696.0 2540.5 1844.0 2541.0"/>
<text x="203.8" y="2896.0" font-size="58" text-anchor="middle">30</text>
<text x="383.5" y="2896.0" font-size="58" text-anchor="middle">40</text>
<text x="562.6" y="2896.0" font-size="58" text-anchor="middle">50</text>
<text x="741.0" y="2896.0" font-size="58" text-anchor="middle">60</text>
<text x="920.0" y="2896.0" font-size="58" text-anchor="middle">70</text>
<text x="1038.0" y="2896.0" font-size="58" text-anchor="middle">155</text>
<text x="1199.0" y="2896.0" font-size="58" text-anchor="middle">160</text>
<text x="1360.0" y="2896.0" font-size="58" text-anchor="middle">165</text>
<text x="1520.4" y="2896.0" font-size="58" text-anchor="middle">170</text>
<text x="1683.0" y="2896.0" font-size="58" text-anchor="middle">175</text>
<text x="1844.0" y="2896.0" font-size="58" text-anchor="middle">180</text>
<text x="1025.4" y="3005.5" font-size="71.5" letter-spacing="1.2" text-anchor="middle">Temperature (<tspan font-size="40" dy="-40">o</tspan><tspan dy="40">C)</tspan></text>
<text x="315.6" y="1709.3" font-size="98" text-anchor="middle">(b)</text>
<text x="1683.6" y="1702" font-size="58" letter-spacing="-0.8" text-anchor="middle">PVDF/PCL</text>
<text x="1695.4" y="1789.0" font-size="58" text-anchor="middle">100/0</text>
<text x="1697.6" y="1907.5" font-size="58" text-anchor="middle">70/30</text>
<text x="1696.0" y="2034.5" font-size="58" text-anchor="middle">60/40</text>
<text x="1698.4" y="2160.2" font-size="58" text-anchor="middle">50/50</text>
<text x="1698.4" y="2287.0" font-size="58" text-anchor="middle">40/60</text>
<text x="1702.6" y="2395.0" font-size="58" text-anchor="middle">30/70</text>
<text x="1703.4" y="2510.8" font-size="58" text-anchor="middle">0/100</text>
<g transform="translate(96.3,0) rotate(-90)">
<text x="-2292.8" y="0" font-size="73" text-anchor="middle">Endo</text>
<text x="-2071.8" y="0" font-size="73" text-anchor="middle">Exo</text>
<text class="ang" x="-2435.2" y="-4.9" font-size="61" text-anchor="middle">&lt;</text>
<text class="ang" x="-1951" y="-4.9" font-size="61" text-anchor="middle">&gt;</text>
</g>
</g>
</svg></body></html>
